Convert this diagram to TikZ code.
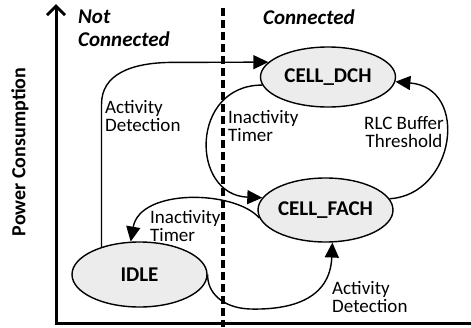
\documentclass[tikz,border=0pt]{standalone}
\usepackage{fontspec}
\setmainfont{Carlito}
\usetikzlibrary{arrows.meta,shapes.geometric}
\begin{document}
\begin{tikzpicture}[x=1pt,y=-1pt,
  state/.style={ellipse, draw, line width=1.4pt, fill=gray!15,
    inner xsep=-4pt, inner ysep=0pt, minimum width=135pt,
    font=\fontsize{21}{21}\selectfont\bfseries},
  trans/.style={line width=1.4pt, -{Triangle[length=15pt,width=14pt]}},
  lbl/.style={inner sep=0pt, align=left, font=\fontsize{19}{18.5}\selectfont},
  heading/.style={inner sep=0pt, align=left, anchor=north west,
    font=\fontsize{21}{23}\selectfont\bfseries\itshape},
  axis/.style={line width=3pt}]
\useasboundingbox (0,0) rectangle (471,327);
\fill[white] (0,0) rectangle (471,327);

% axes and the connected / not connected divider
\coordinate (ytop) at (56,4);
\coordinate (origin) at (56,323);
\coordinate (xend) at (471,323);
\draw[axis, line join=miter, {Straight Barb[length=9pt,width=18pt]}-] (ytop) -- (origin) -- (xend);
\coordinate (divtop) at (223,8);
\coordinate (divbot) at (223,327);
\draw[line width=3.5pt, dash pattern=on 7.5pt off 4.5pt] (divtop) -- (divbot);

\node[font=\fontsize{20}{20}\selectfont\bfseries, rotate=90] (pc) at (20,152) {Power Consumption};
\node[heading] (nc) at (78,10) {Not\\Connected};
\node[heading] (cn) at (263,10) {Connected};

% RRC states
\node[state, minimum height=60pt] (dch) at (328,77) {CELL\_DCH};
\node[state, minimum height=64pt] (fach) at (325.5,210) {CELL\_FACH};
\node[state, minimum height=65pt] (idle) at (139.5,274.5) {IDLE};

% transitions
\draw[trans] (idle.144) -- (idle.144 |- 0,104)
  .. controls (idle.144 |- 0,75) and (130,62.4) .. (173,62.4) -- (dch.166);
\draw[trans] (dch.187) .. controls (190,85) and (190,195) .. (fach.169);
\draw[trans] (fach.10) .. controls (455,195) and (470,88) .. (dch.-4);
\draw[trans] (fach.187) .. controls (235,190) and (140,188) .. (idle.105);
\draw[trans] (idle.0) .. controls (207,292) and (222,308) .. (250,309)
  .. controls (290,310) and (330,300) .. (fach.-78);

% transition labels
\node[lbl, anchor=north west] (ad1) at (105,100) {Activity\\Detection};
\node[lbl, anchor=north west] (it1) at (228,110) {Inactivity\\Timer};
\node[lbl, anchor=north, align=center] (rlc) at (404,116) {RLC Buffer\\Threshold};
\node[lbl, anchor=north west] (it2) at (150,210) {Inactivity\\Timer};
\node[lbl, anchor=north west] (ad2) at (332,281) {Activity\\Detection};
\end{tikzpicture}
\end{document}
